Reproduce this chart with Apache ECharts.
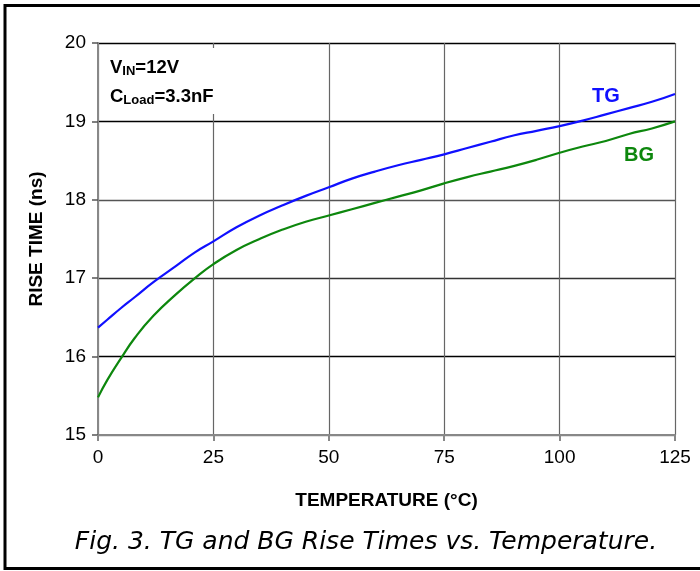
<!DOCTYPE html>
<html><head><meta charset="utf-8">
<script src="https://cdn.jsdelivr.net/npm/echarts@6/dist/echarts.min.js"></script>
<style>html,body{margin:0;padding:0;background:#fff}#c{width:700px;height:571px}</style>
</head><body><div id="c"></div>
<script>
const temps = [0,2,5,8,12,17,21,25,30,35,40,45,50,55,60,65,70,75,80,85,90,95,100,105,110,115,120,125];
const tgRise = [16.37,16.47,16.62,16.76,16.95,17.16,17.33,17.47,17.65,17.80,17.93,18.05,18.16,18.27,18.36,18.44,18.51,18.58,18.66,18.74,18.82,18.88,18.94,19.01,19.09,19.17,19.25,19.35];
const bgRise = [15.48,15.70,15.98,16.24,16.52,16.80,17.00,17.18,17.36,17.50,17.62,17.72,17.80,17.88,17.96,18.04,18.12,18.21,18.29,18.36,18.43,18.51,18.60,18.68,18.75,18.84,18.91,19.00];
const xTicks = [0,25,50,75,100,125];
const yTicks = [15,16,17,18,19,20];

const chart = echarts.init(document.getElementById('c'));
const F = '"Liberation Sans", Arial, sans-serif';
chart.setOption({
  animation:false,
  grid:{left:98,right:25,top:43,bottom:136},
  xAxis:{type:'value',min:0,max:125,interval:25,
    name:'TEMPERATURE (°C)',nameLocation:'middle',nameGap:56,
    nameTextStyle:{fontFamily:F,fontWeight:'bold',fontSize:19,color:'#000'},
    axisLine:{show:true,lineStyle:{color:'#888',width:2}},
    axisTick:{show:true,length:6,lineStyle:{color:'#888',width:2}},
    axisLabel:{fontFamily:F,fontSize:19,color:'#000',margin:13,formatter:v=>xTicks.includes(v)?String(v):''},
    splitLine:{show:true,lineStyle:{color:'#666',width:1.2}}
  },
  yAxis:{type:'value',min:15,max:20,interval:1,
    name:'RISE TIME (ns)',nameLocation:'middle',nameGap:52,
    nameTextStyle:{fontFamily:F,fontWeight:'bold',fontSize:19,color:'#000'},
    axisLine:{show:true,lineStyle:{color:'#888',width:2}},
    axisTick:{show:true,length:6,lineStyle:{color:'#555',width:1.5}},
    axisLabel:{fontFamily:F,fontSize:19,color:'#000',margin:12,formatter:v=>yTicks.includes(v)?String(v):''},
    splitLine:{show:true,lineStyle:{color:['#888','#000','#333','#555','#000','#000'],width:1.3}}
  },
  series:[
    {name:'TG',type:'line',data:temps.map((t,i)=>[t,tgRise[i]]),smooth:0.5,showSymbol:false,
      lineStyle:{color:'#1010ff',width:2.2},z:3},
    {name:'BG',type:'line',data:temps.map((t,i)=>[t,bgRise[i]]),smooth:0.5,showSymbol:false,
      lineStyle:{color:'#0d870d',width:2.2},z:3}
  ],
  graphic:[
    {type:'rect',shape:{x:100,y:48,width:120,height:66},style:{fill:'#fff'},z:5},
    {type:'text',left:110,top:58,z:6,style:{text:'{b|V}{s|IN}{b|=12V}',rich:{
      b:{fontFamily:F,fontWeight:'bold',fontSize:18.5,fill:'#000'},
      s:{fontFamily:F,fontWeight:'bold',fontSize:13,fill:'#000',padding:[8,0,0,0]}}}},
    {type:'text',left:110,top:87,z:6,style:{text:'{b|C}{s|Load}{b|=3.3nF}',rich:{
      b:{fontFamily:F,fontWeight:'bold',fontSize:18.5,fill:'#000'},
      s:{fontFamily:F,fontWeight:'bold',fontSize:13,fill:'#000',padding:[8,0,0,0]}}}},
    {type:'text',x:606,y:96,z:6,style:{text:'TG',fontFamily:F,fontWeight:'bold',fontSize:20,fill:'#1010ff',align:'center',verticalAlign:'middle'}},
    {type:'text',x:639,y:155,z:6,style:{text:'BG',fontFamily:F,fontWeight:'bold',fontSize:20,fill:'#0d870d',align:'center',verticalAlign:'middle'}},
    {type:'text',x:366,y:542,style:{text:'Fig. 3. TG and BG Rise Times vs. Temperature.',fontFamily:'"DejaVu Sans", sans-serif',fontStyle:'italic',fontSize:25,fill:'#000',align:'center',verticalAlign:'middle'}},
    {type:'rect',shape:{x:5,y:5.5,width:720,height:563},style:{fill:'none',stroke:'#000',lineWidth:3},z:10}
  ]
});
</script></body></html>
